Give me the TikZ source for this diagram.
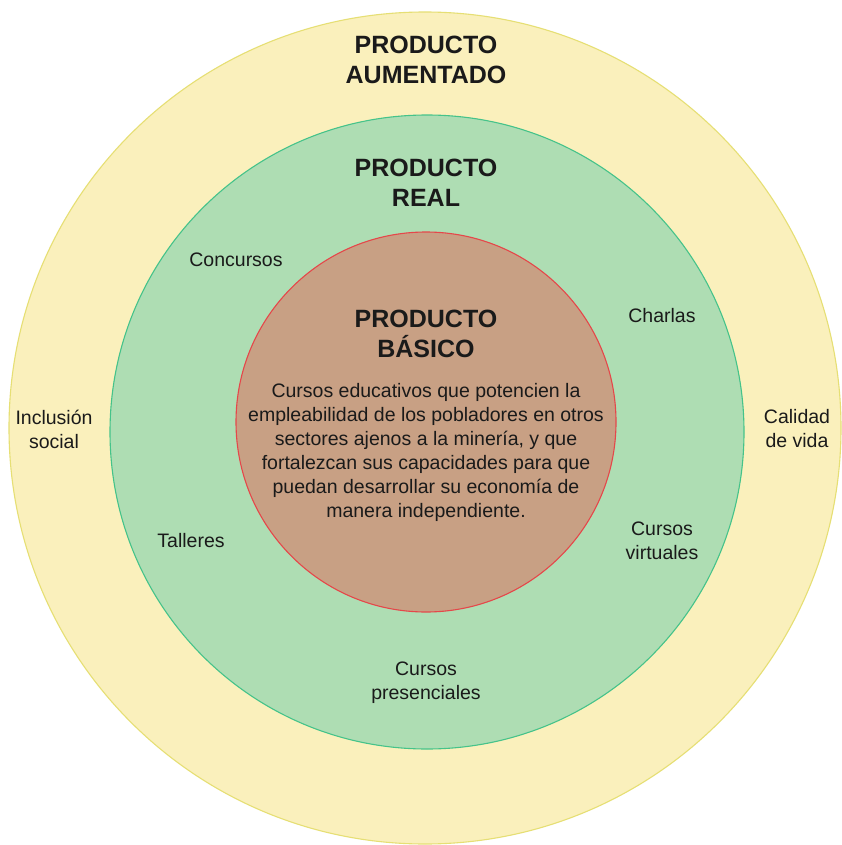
\documentclass[tikz,border=0pt]{standalone}
\usepackage{fontspec}
\setmainfont{Liberation Sans}
\usepackage{xcolor}
\usepackage{tikz}
\usetikzlibrary{positioning}
\definecolor{aumfill}{HTML}{FAF0BC}
\definecolor{aumline}{HTML}{E6DF74}
\definecolor{realfill}{HTML}{AEDDB3}
\definecolor{realline}{HTML}{45C38A}
\definecolor{basfill}{HTML}{C8A084}
\definecolor{basline}{HTML}{E5474A}
\definecolor{ink}{HTML}{1A1A1A}

\begin{document}
\begin{tikzpicture}[
  x=1pt, y=-1pt,
  ring/.style={circle, draw, line width=1.1pt, inner sep=0pt},
  title/.style={font=\fontsize{25}{30}\selectfont\bfseries, text=ink, align=center},
  item/.style={font=\fontsize{19.5}{24}\selectfont, text=ink, align=center}
]
\useasboundingbox[fill=white] (0,0) rectangle (842,845);

% three product levels
\node[ring, fill=aumfill, draw=aumline, minimum size=832pt] (aumentado) at (425,428) {};
\node[ring, fill=realfill, draw=realline, minimum size=634pt] (real) at (427,432) {};
\node[ring, fill=basfill, draw=basline, minimum size=380pt] (basico) at (426,422) {};

% headings
\node[title] (taum) at (426,60) {PRODUCTO\\AUMENTADO};
\node[title] (treal) at (426,183) {PRODUCTO\\REAL};
\node[title] (tbas) at (426,334) {PRODUCTO\\BÁSICO};

% core description
\node[item] (desc) at (426,452) {Cursos educativos que potencien la\\
  empleabilidad de los pobladores en otros\\
  sectores ajenos a la minería, y que\\
  fortalezcan sus capacidades para que\\
  puedan desarrollar su economía de\\
  manera independiente.};

% real product items
\node[item] (concursos) at (236,260) {Concursos};
\node[item] (charlas) at (662,316) {Charlas};
\node[item] (talleres) at (191,541) {Talleres};
\node[item] (virtuales) at (662,541) {Cursos\\virtuales};
\node[item] (presenciales) at (426,683) {Cursos\\presenciales};

% augmented product items
\node[item] (inclusion) at (54,429) {Inclusión\\social};
\node[item] (calidad) at (797,429) {Calidad\\de vida};
\end{tikzpicture}
\end{document}
